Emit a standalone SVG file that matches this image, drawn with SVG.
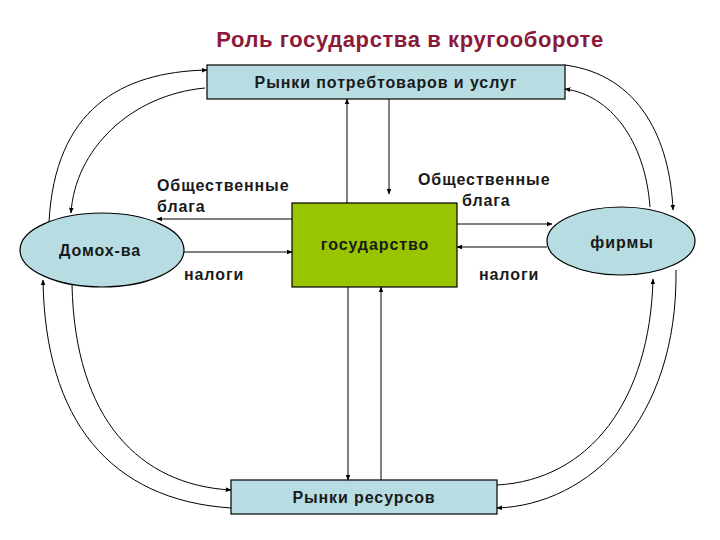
<svg xmlns="http://www.w3.org/2000/svg" width="720" height="540" viewBox="0 0 720 540">
<defs>
<marker id="a" viewBox="0 0 10 10" refX="9" refY="5" markerWidth="6" markerHeight="6" orient="auto"><path d="M0,1 L10,5 L0,9 Z" fill="#000"/></marker>
<style>
text{font-family:"Liberation Sans",Arial,sans-serif;font-weight:bold;fill:#1a1a1a}
.b{fill:#b7dde3;stroke:#000;stroke-width:1.2}
.l{fill:none;stroke:#000;stroke-width:1;marker-end:url(#a)}
.t{font-size:16px;letter-spacing:0.9px}
</style>
</defs>
<rect width="720" height="540" fill="#fff"/>
<text x="410" y="47" text-anchor="middle" style="font-size:22px;letter-spacing:0.6px;fill:#8b1a3a">Роль государства в кругообороте</text>
<g id="top"><rect class="b" x="207" y="65" width="358" height="34"/><text class="t" x="386" y="88" text-anchor="middle">Рынки потребтоваров и услуг</text></g>
<g id="gov"><rect x="292" y="203" width="165" height="84" fill="#99c400" stroke="#000" stroke-width="1.2"/><text class="t" x="375" y="250" text-anchor="middle">государство</text></g>
<g id="bottom"><rect class="b" x="231" y="480" width="266" height="34"/><text class="t" x="364" y="503" text-anchor="middle">Рынки ресурсов</text></g>
<g id="house"><ellipse class="b" cx="102" cy="250" rx="82" ry="37"/><text class="t" x="100" y="256" text-anchor="middle">Домох-ва</text></g>
<g id="firms"><ellipse class="b" cx="621" cy="241" rx="74" ry="34"/><text class="t" x="622" y="248" text-anchor="middle">фирмы</text></g>
<g id="labels">
<text class="t" x="157" y="191">Общественные</text><text class="t" x="157" y="212">блага</text>
<text class="t" x="184" y="280">налоги</text>
<text class="t" x="418" y="185">Общественные</text><text class="t" x="462" y="206">блага</text>
<text class="t" x="479" y="280">налоги</text>
</g>
<g id="connectors">
<line class="l" x1="292" y1="219" x2="157" y2="219"/>
<line class="l" x1="184" y1="252" x2="292" y2="252"/>
<line class="l" x1="457" y1="224" x2="552" y2="224"/>
<line class="l" x1="547" y1="247" x2="457" y2="247"/>
<line class="l" x1="347" y1="203" x2="347" y2="99"/>
<line class="l" x1="389" y1="99" x2="389" y2="194"/>
<line class="l" x1="348" y1="287" x2="348" y2="480"/>
<line class="l" x1="381" y1="480" x2="381" y2="287"/>
<path class="l" d="M49,222 C55,110 120,72 207,70"/>
<path class="l" d="M205,88 C130,95 75,150 71,213"/>
<path class="l" d="M565,65 C640,75 670,140 673,210"/>
<path class="l" d="M650,207 C645,140 610,95 565,89"/>
<path class="l" d="M231,508 C110,500 45,420 43,280"/>
<path class="l" d="M72,285 C75,420 140,485 231,490"/>
<path class="l" d="M676,270 C678,420 590,505 497,508"/>
<path class="l" d="M497,485 C590,480 650,400 653,279"/>
</g>
</svg>
